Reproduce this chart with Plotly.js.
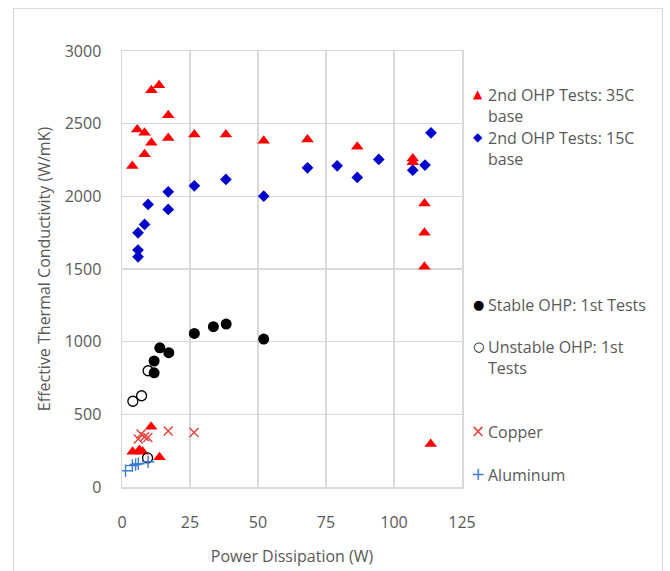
<!DOCTYPE html>
<html>
<head>
<meta charset="utf-8">
<script src="https://cdn.plot.ly/plotly-3.0.1.min.js"></script>
<style>
  html, body { margin: 0; padding: 0; background: #ffffff; }
  #wrap { position: relative; width: 670px; height: 571px; overflow: hidden; }
  #frame { position: absolute; left: 13px; top: 8px; width: 650px; height: 580px; border: 1.5px solid #d9d9d9; box-sizing: border-box; pointer-events: none; }
  #chart { position: absolute; left: 0; top: 0; width: 670px; height: 571px; }
</style>
</head>
<body>
<div id="wrap">
  <div id="chart"></div>
  <div id="frame"></div>
</div>
<script>
// ---- data ----
const ohp35X = [3.8, 5.6, 8.3, 8.3, 10.8, 10.8, 13.6, 17, 17, 26.6, 38.2, 52.1, 68.2, 86.5, 106.9, 106.9, 111.2, 111.2, 111.2, 113.5, 3.9, 6.4, 7.6, 10.7, 13.8];
const ohp35Y = [2208, 2460, 2437, 2290, 2730, 2368, 2765, 2558, 2402, 2425, 2425, 2382, 2391, 2341, 2260, 2235, 1951, 1749, 1515, 296, 243, 254, 243, 415, 205];

const ohp15X = [5.9, 5.9, 5.9, 8.3, 9.6, 17, 17, 26.6, 38.2, 52.1, 68.2, 79.1, 86.5, 94.4, 106.9, 111.4, 113.6];
const ohp15Y = [1584, 1630, 1749, 1807, 1944, 1910, 2031, 2072, 2116, 2001, 2196, 2210, 2130, 2254, 2180, 2215, 2437];

const stableX = [11.8, 11.8, 13.9, 17.2, 26.6, 33.6, 38.3, 52.1];
const stableY = [786, 867, 958, 924, 1057, 1103, 1121, 1018];

const unstableX = [4.0, 7.2, 9.6, 9.4];
const unstableY = [590, 628, 800, 200];

const copperX = [6.0, 7.0, 8.3, 9.5, 17, 26.5];
const copperY = [330, 365, 345, 340, 385, 375];

const aluminumX = [1.3, 3.8, 5.0, 6.0, 9.6];
const aluminumY = [112, 147, 155, 160, 174];

const xTicks = [0, 25, 50, 75, 100, 125];
const yTicks = [0, 500, 1000, 1500, 2000, 2500, 3000];

const seriesNames = ["2nd OHP Tests: 35C<br>base", "2nd OHP Tests: 15C<br>base", "Stable OHP: 1st Tests", "Unstable OHP: 1st<br>Tests", "Copper", "Aluminum"];

// ---- chart ----
const FONT = "Open Sans, Liberation Sans, sans-serif";
const GRAY = "#595959";
const GRID = "#d9d9d9";

const traces = [
  { x: ohp35X, y: ohp35Y, name: seriesNames[0], type: "scatter", mode: "markers",
    marker: { symbol: "triangle-up", size: 11, color: "#ff0000" } },
  { x: ohp15X, y: ohp15Y, name: seriesNames[1], type: "scatter", mode: "markers",
    marker: { symbol: "diamond", size: 9, color: "#0000cc" } },
  { x: stableX, y: stableY, name: seriesNames[2], type: "scatter", mode: "markers",
    marker: { symbol: "circle", size: 11, color: "#000000" } },
  { x: unstableX, y: unstableY, name: seriesNames[3], type: "scatter", mode: "markers",
    marker: { symbol: "circle-open", size: 10, color: "#000000", line: { width: 1.3, color: "#000000" } } },
  { x: copperX, y: copperY, name: seriesNames[4], type: "scatter", mode: "markers",
    marker: { symbol: "x-thin-open", size: 9, color: "#e8413a", line: { width: 1.4, color: "#e8413a" } } },
  { x: aluminumX, y: aluminumY, name: seriesNames[5], type: "scatter", mode: "markers",
    marker: { symbol: "cross-thin-open", size: 9, color: "#3b7dd8", line: { width: 1.4, color: "#3b7dd8" } } }
];

// legend built from annotations (pixel positions converted to paper coords)
const L = 122, R = 208, T = 51, B = 84, W = 670, H = 571;
const pw = W - L - R, ph = H - T - B;
const px = v => (v - L) / pw;
const py = v => (H - B - v) / ph;

const legendSymbols = [
  { sym: "▲", color: "#ff0000", size: 12 },
  { sym: "◆", color: "#0000cc", size: 12 },
  { sym: "●", color: "#000000", size: 13 },
  { sym: "○", color: "#000000", size: 13 },
  { sym: "×", color: "#e8413a", size: 17 },
  { sym: "+", color: "#3b7dd8", size: 17 }
];
const legendY = [94, 137, 304, 346, 431, 474];

const annotations = [];
seriesNames.forEach((nm, i) => {
  annotations.push({
    xref: "paper", yref: "paper", x: px(478), y: py(legendY[i]),
    xanchor: "center", yanchor: "middle", showarrow: false,
    text: legendSymbols[i].sym,
    font: { family: "DejaVu Sans, sans-serif", size: legendSymbols[i].size, color: legendSymbols[i].color }
  });
  annotations.push({
    xref: "paper", yref: "paper", x: px(486), y: py(legendY[i] - 12),
    xanchor: "left", yanchor: "top", align: "left", showarrow: false,
    text: nm,
    font: { family: FONT, size: 16, color: GRAY }
  });
});

const layout = {
  width: W, height: H,
  margin: { l: L, r: R, t: T, b: B, pad: 0 },
  paper_bgcolor: "rgba(0,0,0,0)",
  plot_bgcolor: "#ffffff",
  showlegend: false,
  font: { family: FONT, color: GRAY, size: 16 },
  xaxis: {
    range: [0, 125], tickvals: xTicks, ticktext: xTicks.map(String),
    showgrid: true, gridcolor: GRID, gridwidth: 1.5,
    showline: true, linecolor: GRID, linewidth: 1.5, mirror: true,
    zeroline: false, ticks: "", ticklabelstandoff: 20,
    tickfont: { family: FONT, size: 16, color: GRAY },
    title: { text: "Power Dissipation (W)", font: { family: FONT, size: 16, color: GRAY }, standoff: 19 },
    automargin: false, fixedrange: true
  },
  yaxis: {
    range: [0, 3000], tickvals: yTicks, ticktext: yTicks.map(String),
    showgrid: true, gridcolor: GRID, gridwidth: 1.5,
    showline: true, linecolor: GRID, linewidth: 1.5, mirror: true,
    zeroline: false, ticks: "", ticklabelstandoff: 16,
    tickfont: { family: FONT, size: 16, color: GRAY },
    title: { text: "Effective Thermal Conductivity (W/mK)", font: { family: FONT, size: 16, color: GRAY }, standoff: 10 },
    automargin: false, fixedrange: true
  },
  annotations: annotations
};

Plotly.newPlot("chart", traces, layout, { staticPlot: true, displayModeBar: false });
</script>
</body>
</html>
